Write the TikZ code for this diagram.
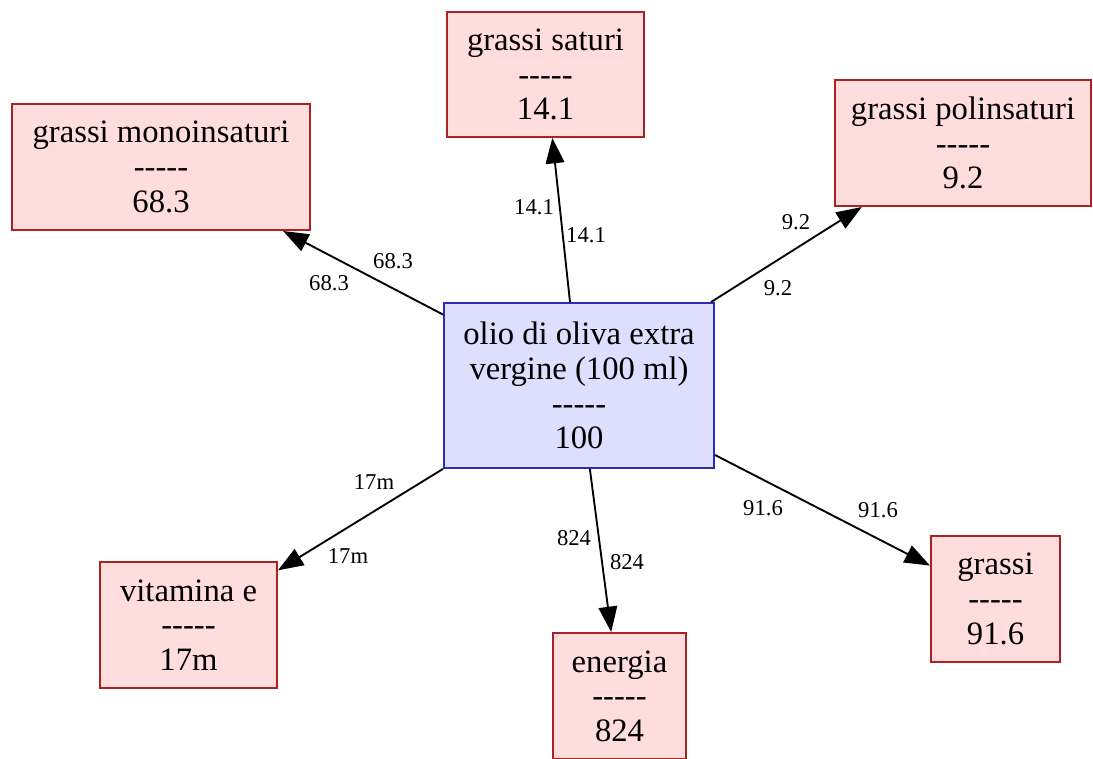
\documentclass[tikz,border=0pt]{standalone}
\usepackage{fontspec}
\setmainfont{Liberation Serif}
\usetikzlibrary{arrows.meta}
\definecolor{leaffill}{RGB}{255,221,221}
\definecolor{leafline}{RGB}{170,34,34}
\definecolor{rootfill}{RGB}{222,222,255}
\definecolor{rootline}{RGB}{44,44,176}
% five hyphens kept apart so no dash ligature forms
\newcommand\sepline{-\kern0pt-\kern0pt-\kern0pt-\kern0pt-}
\begin{document}
\begin{tikzpicture}[x=0.75pt,y=-0.75pt,
  box/.style={rectangle,draw,line width=1.5pt,inner sep=0pt,align=center,
    font=\fontsize{24.5}{26}\selectfont},
  leaf/.style={box,fill=leaffill,draw=leafline,minimum height=94.5pt},
  root/.style={box,fill=rootfill,draw=rootline},
  flow/.style={line width=1.4pt,-{Triangle[length=19pt,width=14pt]}},
  qty/.style={inner sep=0pt,font=\fontsize{17}{17}\selectfont}]
\useasboundingbox (0,0) rectangle (1093,758);

\node[root,minimum width=202.5pt,minimum height=123.75pt] (olio) at (579,385.5)
  {olio di oliva extra\\vergine (100 ml)\\\sepline\\100};
\node[leaf,minimum width=147.75pt,minimum height=93.75pt] (saturi) at (545.5,74.5)
  {grassi saturi\\\sepline\\14.1};
\node[leaf,minimum width=223.5pt] (mono) at (161,167)
  {grassi monoinsaturi\\\sepline\\68.3};
\node[leaf,minimum width=192pt] (poli) at (963,143)
  {grassi polinsaturi\\\sepline\\9.2};
\node[leaf,minimum width=132.75pt] (vit) at (188.5,625)
  {vitamina e\\\sepline\\17m};
\node[leaf,minimum width=99.75pt] (ene) at (619.5,696)
  {energia\\\sepline\\824};
\node[leaf,minimum width=96.75pt] (gra) at (995.5,599)
  {grassi\\\sepline\\91.6};

\draw[flow] (olio) -- (mono);
\draw[flow] (olio) -- (saturi);
\draw[flow] (olio) -- (poli);
\draw[flow] (olio) -- (vit);
\draw[flow] (olio) -- (ene);
\draw[flow] (olio) -- (gra);

\node[qty] (l1a) at (393,261) {68.3};
\node[qty] (l1b) at (329,283) {68.3};
\node[qty] (l2a) at (534,207) {14.1};
\node[qty] (l2b) at (586,235) {14.1};
\node[qty] (l3a) at (796,222) {9.2};
\node[qty] (l3b) at (778,288) {9.2};
\node[qty] (l4a) at (374,482) {17m};
\node[qty] (l4b) at (348,556) {17m};
\node[qty] (l5a) at (574,538) {824};
\node[qty] (l5b) at (627,562) {824};
\node[qty] (l6a) at (763,508) {91.6};
\node[qty] (l6b) at (878,510) {91.6};
\end{tikzpicture}
\end{document}
